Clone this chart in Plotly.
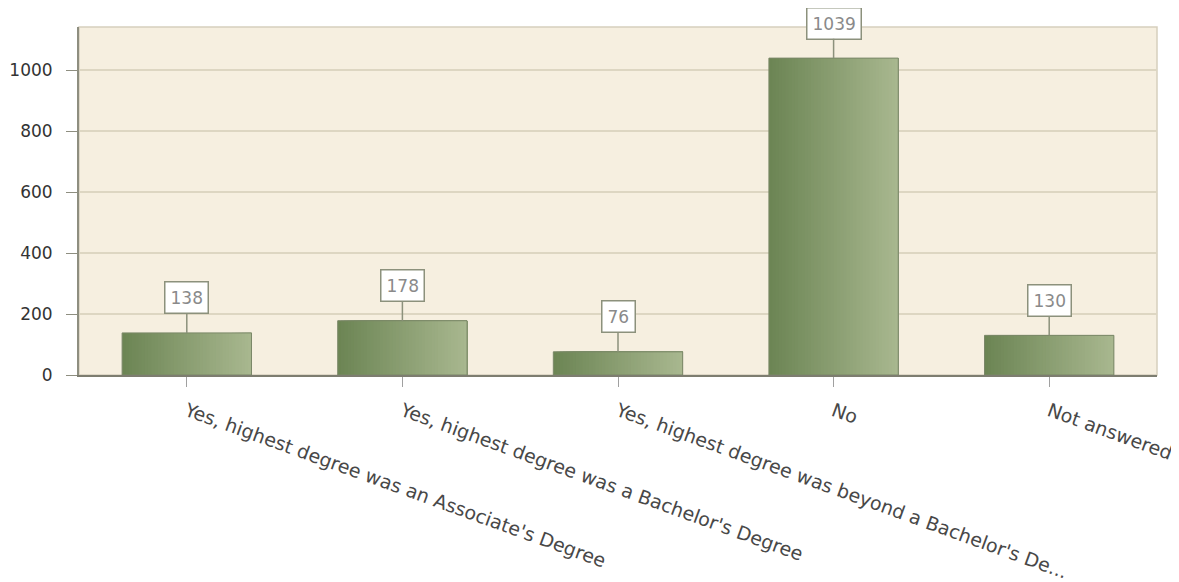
import plotly.graph_objects as go

categories = [
    "Yes, highest degree was an Associate's Degree",
    "Yes, highest degree was a Bachelor's Degree",
    "Yes, highest degree was beyond a Bachelor's De...",
    "No",
    "Not answered",
]
values = [138, 178, 76, 1039, 130]
y_ticks = [0, 200, 400, 600, 800, 1000]

fig = go.Figure()

# gradient bars built from overlapping slices (each extends to the right edge)
N = 40
bar_w = 0.6
dark = (108, 133, 84)
light = (168, 183, 143)
for i in range(N):
    t = i / (N - 1)
    c = tuple(int(round(dark[k] + (light[k] - dark[k]) * t)) for k in range(3))
    fig.add_trace(go.Bar(
        x=categories, y=values,
        width=bar_w - i * bar_w / N, offset=-bar_w / 2 + i * bar_w / N,
        marker=dict(color="rgb(%d,%d,%d)" % c, line=dict(width=0)),
        hoverinfo="skip", showlegend=False,
    ))
# outline
fig.add_trace(go.Bar(
    x=categories, y=values, width=bar_w, offset=-bar_w / 2,
    marker=dict(color="rgba(0,0,0,0)", line=dict(color="#7a8768", width=1)),
    showlegend=False, hovertemplate="%{x}: %{y}<extra></extra>",
))

for c, v in zip(categories, values):
    fig.add_annotation(
        x=c, y=v, text=str(v), showarrow=True, arrowhead=0, arrowwidth=1.5,
        arrowcolor="#8c917c", ax=0, ay=-35,
        bgcolor="white", bordercolor="#8c917c", borderwidth=1.5, borderpad=5,
        font=dict(family="DejaVu Sans", size=17, color="#8a8a8a"),
    )

fig.update_layout(
    width=1171, height=574,
    margin=dict(l=71, r=22, t=19, b=207, autoexpand=False),
    paper_bgcolor="white", plot_bgcolor="#f6efe0",
    barmode="overlay", bargap=0.4,
    font=dict(family="DejaVu Sans", color="#333333"),
)
fig.update_yaxes(
    range=[0, 1141], tickvals=y_ticks, showgrid=True, gridcolor="#ddd6c2",
    gridwidth=1.5, showline=True, linecolor="#8e8e80", linewidth=2,
    ticks="outside", ticklen=11, tickcolor="#8e8e80", tickfont=dict(size=17, color="#333333"),
    ticklabelstandoff=10, zeroline=False, mirror=False, automargin=False,
)
fig.update_xaxes(
    showline=True, linecolor="#7d7d70", linewidth=2, ticks="outside", ticklen=10,
    tickcolor="#a0a0a0", tickangle=20, tickfont=dict(size=19, color="#484848"),
    ticklabelstandoff=6, showgrid=False, automargin=False,
)
# top/right frame
fig.add_shape(type="rect", xref="paper", yref="paper", x0=0, y0=0, x1=1, y1=1,
              line=dict(color="#d6cfbd", width=1.5), layer="below")

fig.write_html("out.html")
